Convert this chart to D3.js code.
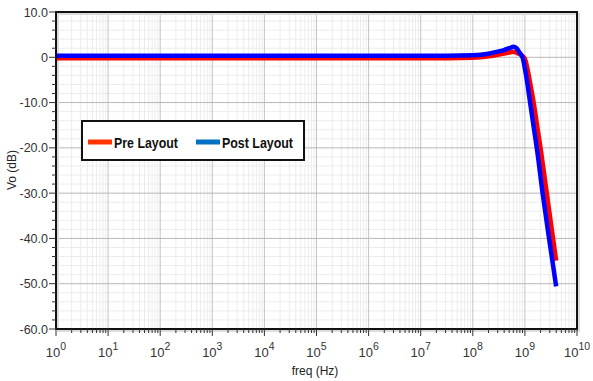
<!DOCTYPE html>
<html><head><meta charset="utf-8">
<script src="https://cdn.jsdelivr.net/npm/d3@7"></script>
<style>
html,body{margin:0;padding:0;background:#fff;}
svg{display:block;font-family:"Liberation Sans",Arial,sans-serif;}
</style></head>
<body>
<svg id="chart" width="593" height="381"></svg>
<script>
// Data: [log10(freq), Vo dB]
const preLayout = [[0,-0.2],[7.5,-0.2],[8.0,-0.1],[8.3,0.2],[8.5,0.6],[8.6,0.8],[8.7,1.05],[8.76,1.2],[8.82,1.1],[8.88,0.8],[8.95,0.3],[9.0,-0.3],[9.05,-2.6],[9.1,-5.6],[9.175,-10.5],[9.24,-15.5],[9.30,-20],[9.42,-30],[9.54,-40],[9.6,-44.9]];
const postLayout = [[0,0.35],[7.5,0.35],[8.0,0.45],[8.3,0.8],[8.5,1.3],[8.6,1.6],[8.7,2.0],[8.78,2.3],[8.84,2.0],[8.9,1.0],[8.96,-0.2],[9.0,-2.5],[9.05,-6],[9.1,-10],[9.17,-15.5],[9.24,-21],[9.34,-30],[9.47,-40.5],[9.6,-50.6]];
const xDecades = [0,1,2,3,4,5,6,7,8,9,10];
const yTicks = [10,0,-10,-20,-30,-40,-50,-60];
const yTickLabels = ["10.0","0","-10.0","-20.0","-30.0","-40.0","-50.0","-60.0"];
const seriesNames = ["Pre Layout","Post Layout"];
const curveColors = ["#ff0000","#0000ff"];
const legendColors = ["#ff3300","#0070c0"];

const svg = d3.select("#chart");
const L=56, R=577, T=12, B=329;
const x = d3.scaleLinear().domain([0,10]).range([L,R]);
const y = d3.scaleLinear().domain([-60,10]).range([B,T]);

// minor grid
const minorX=[];
xDecades.slice(0,-1).forEach(d=>{for(let k=2;k<=9;k++)minorX.push(d+Math.log10(k));});
const minorY=d3.range(-60,10.01,2).filter(v=>v%10!==0);
const g=svg.append("g");
g.selectAll(".mx").data(minorX).join("line").attr("x1",d=>x(d)).attr("x2",d=>x(d)).attr("y1",T).attr("y2",B).attr("stroke","#ececec").attr("stroke-width",1);
g.selectAll(".my").data(minorY).join("line").attr("y1",d=>y(d)).attr("y2",d=>y(d)).attr("x1",L).attr("x2",R).attr("stroke","#ececec").attr("stroke-width",1);
g.selectAll(".Mx").data(xDecades).join("line").attr("x1",d=>x(d)).attr("x2",d=>x(d)).attr("y1",T).attr("y2",B).attr("stroke","#c4c4c4").attr("stroke-width",1);
g.selectAll(".My").data(yTicks).join("line").attr("y1",d=>y(d)).attr("y2",d=>y(d)).attr("x1",L).attr("x2",R).attr("stroke","#b8b8b8").attr("stroke-width",1);

// shadow
svg.append("rect").attr("x",L+2).attr("y",T+2).attr("width",R-L).attr("height",B-T).attr("fill","none").attr("stroke","#dcdcdc").attr("stroke-width",2);

// curves
const line=d3.line().x(d=>x(d[0])).y(d=>y(d[1])).curve(d3.curveMonotoneX);
[preLayout,postLayout].forEach((s,i)=>{
  svg.append("path").datum(s).attr("d",line).attr("fill","none").attr("stroke",curveColors[i]).attr("stroke-width",4.5).attr("stroke-linejoin","round");
});

// frame
svg.append("rect").attr("x",L).attr("y",T).attr("width",R-L).attr("height",B-T).attr("fill","none").attr("stroke","#111").attr("stroke-width",2);

// y ticks
svg.selectAll(".ytm").data(minorY).join("line").attr("x1",L-4).attr("x2",L).attr("y1",d=>y(d)).attr("y2",d=>y(d)).attr("stroke","#333");
svg.selectAll(".ytM").data(yTicks).join("line").attr("x1",L-7).attr("x2",L).attr("y1",d=>y(d)).attr("y2",d=>y(d)).attr("stroke","#333");
svg.selectAll(".ytl").data(yTicks).join("text").attr("x",L-8).attr("y",d=>y(d)+4.5).attr("text-anchor","end").attr("font-size",12.5).attr("fill","#333").text((d,i)=>yTickLabels[i]);

// x ticks
svg.selectAll(".xtm").data(minorX).join("line").attr("x1",d=>x(d)).attr("x2",d=>x(d)).attr("y1",B).attr("y2",B+4).attr("stroke","#333");
svg.selectAll(".xtM").data(xDecades).join("line").attr("x1",d=>x(d)).attr("x2",d=>x(d)).attr("y1",B).attr("y2",B+7).attr("stroke","#333");
const xl=svg.selectAll(".xtl").data(xDecades).join("text").attr("x",d=>x(d)).attr("y",357).attr("text-anchor","middle").attr("font-size",13).attr("fill","#333");
xl.append("tspan").text("10");
xl.append("tspan").attr("dy",-7).attr("font-size",10.5).text(d=>d);

// axis titles
svg.append("text").attr("x",315).attr("y",375).attr("text-anchor","middle").attr("font-size",12).attr("fill","#222").text("freq (Hz)");
svg.append("text").attr("transform","translate(16,170) rotate(-90)").attr("text-anchor","middle").attr("font-size",12).attr("fill","#222").text("Vo (dB)");

// legend
const lg=svg.append("g");
lg.append("rect").attr("x",82).attr("y",121).attr("width",222).attr("height",39).attr("fill","#fff").attr("stroke","#111").attr("stroke-width",2);
const lx=[88,196];
const tl=[64,71];
seriesNames.forEach((n,i)=>{
  lg.append("line").attr("x1",lx[i]).attr("x2",lx[i]+24).attr("y1",142).attr("y2",142).attr("stroke",legendColors[i]).attr("stroke-width",5);
  lg.append("text").attr("x",lx[i]+26).attr("y",147.5).attr("font-weight","bold").attr("font-size",15)
    .attr("textLength",tl[i]).attr("lengthAdjust","spacingAndGlyphs").attr("fill","#111").text(n);
});
</script>
</body></html>
